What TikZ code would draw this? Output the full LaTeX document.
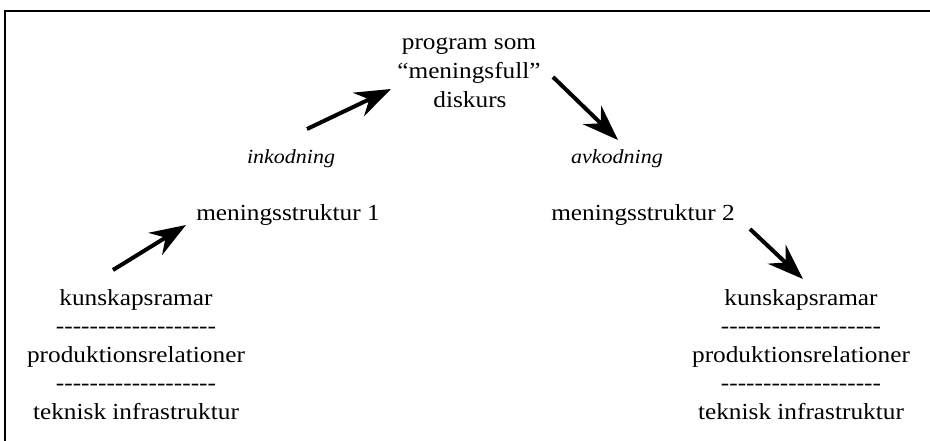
\documentclass[tikz,border=0pt]{standalone}
\usepackage{fontspec}
\setmainfont{Liberation Serif}[FakeStretch=1.1]
\usetikzlibrary{arrows.meta}
\newcommand\dashrow{\foreach \k in {1,...,19}{\mbox{-}}}
\tikzset{
  txt/.style={anchor=base, inner sep=0pt, font=\fontsize{23}{28}\selectfont},
  itxt/.style={anchor=base, inner sep=0pt, font=\fontsize{20}{24}\selectfont\itshape},
  bigarrow/.style={line width=4pt, -{Stealth[length=36pt,width=26pt,inset=12pt]}},
  frame/.style={line width=2.6pt}
}
\begin{document}
\begin{tikzpicture}[x=1pt,y=-1pt]
\useasboundingbox (0,0) rectangle (930,441);
% frame (top and left sides visible)
\coordinate (f1) at (5,441);
\coordinate (f2) at (5,11);
\coordinate (f3) at (932,11);
\draw[frame] (f1) -- (f2) -- (f3);

% top
\node[txt] (p1) at (469,50) {program som};
\node[txt] (p2) at (469,79) {“meningsfull”};
\node[txt] (p3) at (470,108) {diskurs};

% italic labels
\node[itxt] (ink) at (291,164) {inkodning};
\node[itxt] (avk) at (617,164) {avkodning};

% meaning structures
\node[txt] (m1) at (288,221) {meningsstruktur 1};
\node[txt] (m2) at (643,221) {meningsstruktur 2};

% left stack
\node[txt] (l1) at (136,305) {kunskapsramar};
\node[txt] (l2) at (136,333) {\dashrow};
\node[txt] (l3) at (136,362) {produktionsrelationer};
\node[txt] (l4) at (136,390) {\dashrow};
\node[txt] (l5) at (136,419) {teknisk infrastruktur};

% right stack
\node[txt] (r1) at (801,305) {kunskapsramar};
\node[txt] (r2) at (801,333) {\dashrow};
\node[txt] (r3) at (801,362) {produktionsrelationer};
\node[txt] (r4) at (801,390) {\dashrow};
\node[txt] (r5) at (801,419) {teknisk infrastruktur};

% arrows
\coordinate (a1s) at (113,270);
\coordinate (a1e) at (186,225);
\coordinate (a2s) at (307,129);
\coordinate (a2e) at (391,89);
\coordinate (a3s) at (553,77);
\coordinate (a3e) at (618,140);
\coordinate (a4s) at (750,229);
\coordinate (a4e) at (803,279);
\draw[bigarrow] (a1s) -- (a1e);
\draw[bigarrow] (a2s) -- (a2e);
\draw[bigarrow] (a3s) -- (a3e);
\draw[bigarrow] (a4s) -- (a4e);
\end{tikzpicture}
\end{document}
